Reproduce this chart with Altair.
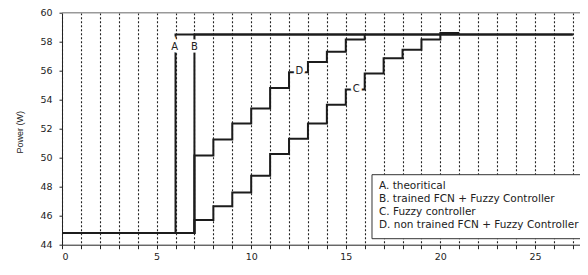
import altair as alt
import pandas as pd

# ---- data ----
series_names = [
    "A. theoritical",
    "B. trained FCN + Fuzzy Controller",
    "C. Fuzzy controller",
    "D. non trained FCN + Fuzzy Controller",
]
a_x = [0, 6, 27]
a_y = [44.8, 58.5, 58.5]
b_x = [0, 7, 27]
b_y = [44.8, 58.5, 58.5]
c_x = [0, 7, 8, 9, 10, 11, 12, 13, 14, 15, 16, 17, 18, 19, 20, 21]
c_y = [44.8, 45.7, 46.65, 47.6, 48.75, 50.25, 51.3, 52.35, 53.65, 54.7,
       55.8, 56.85, 57.45, 58.15, 58.6, 58.6]
d_x = [0, 7, 8, 9, 10, 11, 12, 13, 14, 15, 16]
d_y = [44.8, 50.15, 51.25, 52.35, 53.4, 54.8, 55.9, 56.6, 57.3, 58.15, 58.5]

label_text = ["A", "B", "C", "D"]
label_x = [5.95, 7.0, 15.55, 12.55]
label_y = [57.6, 57.6, 54.72, 56.0]

x_ticks = list(range(0, 28))
y_ticks = [44, 46, 48, 50, 52, 54, 56, 58, 60]
x_domain = [0, 27.38]
y_domain = [44, 60]

rows = []
for name, xs, ys in zip(series_names, [a_x, b_x, c_x, d_x], [a_y, b_y, c_y, d_y]):
    for xv, yv in zip(xs, ys):
        rows.append({"series": name, "x": xv, "y": yv})
df = pd.DataFrame(rows)
lab = pd.DataFrame({"t": label_text, "x": label_x, "y": label_y})

ink = "#1c1c1c"
xscale = alt.Scale(domain=x_domain, nice=False, zero=False)
yscale = alt.Scale(domain=y_domain, nice=False, zero=False)
xaxis = alt.Axis(values=x_ticks,
                 labelExpr="datum.value % 5 === 0 ? datum.label : ''",
                 grid=True, gridDash=[2, 2], gridColor="#222", gridWidth=1.1,
                 tickSize=4, labelPadding=3, titleY=30, titleX=263)
yaxis = alt.Axis(values=y_ticks, grid=False, tickSize=3, labelPadding=7,
                 titleX=-43, titleY=119, titleAngle=-90,
                 titleAlign="center", titleBaseline="middle")

lines = alt.Chart(df).mark_line(interpolate="step-after", strokeWidth=2).encode(
    x=alt.X("x:Q", scale=xscale, title="Sample", axis=xaxis),
    y=alt.Y("y:Q", scale=yscale, title="Power (W)", axis=yaxis),
    color=alt.Color("series:N",
                    scale=alt.Scale(domain=series_names, range=[ink] * 4),
                    legend=alt.Legend(title=None, orient="none", legendX=309.5, legendY=161.5,
                                      strokeColor="#333", fillColor="white", padding=7,
                                      labelFont="DejaVu Sans", labelFontSize=10.5,
                                      labelColor="#222", labelLimit=500,
                                      symbolSize=0, symbolStrokeWidth=0, symbolOpacity=0,
                                      labelOffset=alt.ExprRef(expr="-10"),
                                      rowPadding=1.9, symbolType="circle")),
)

top = alt.Chart(df).mark_rule(color="#999", strokeWidth=1.5).encode(
    x=alt.X("x0:Q", scale=xscale, title="Sample", axis=xaxis),
    x2="x1:Q",
    y=alt.Y("y0:Q", scale=yscale, title="Power (W)", axis=yaxis),
).transform_aggregate(n="count()").transform_calculate(
    x0=str(x_domain[0]), x1=str(x_domain[1]), y0=str(y_domain[1])
)

halo = alt.Chart(lab).mark_text(font="DejaVu Sans", fontSize=10, stroke="white",
                                strokeWidth=5, color="white").encode(
    x=alt.X("x:Q", scale=xscale, title="Sample", axis=xaxis),
    y=alt.Y("y:Q", scale=yscale, title="Power (W)", axis=yaxis),
    text="t:N")
text = alt.Chart(lab).mark_text(font="DejaVu Sans", fontSize=10, color="#222").encode(
    x=alt.X("x:Q", scale=xscale, title="Sample", axis=xaxis),
    y=alt.Y("y:Q", scale=yscale, title="Power (W)", axis=yaxis),
    text="t:N")

chart = alt.layer(lines, top, halo, text).properties(
    width=518, height=232,
    autosize=alt.AutoSizeParams(type="none"),
    padding={"left": 54, "top": 4.7, "right": 0, "bottom": 22},
    background="white",
).configure_view(stroke=None).configure_axis(
    domainColor="#222", tickColor="#222", labelColor="#222",
    labelFont="DejaVu Sans", labelFontSize=9.5,
    titleFont="Liberation Sans", titleFontSize=9, titleFontWeight="normal", titleColor="#222",
)

chart.save("out.html", embed_options={"renderer": "svg", "actions": False})
